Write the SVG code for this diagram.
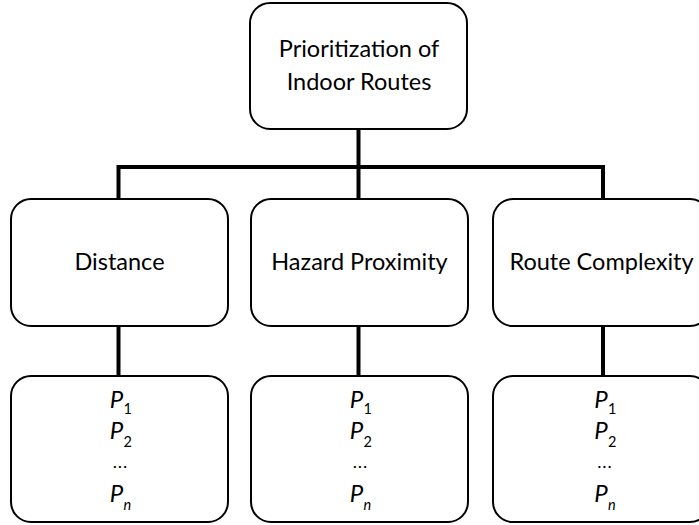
<svg xmlns="http://www.w3.org/2000/svg" width="699" height="525" viewBox="0 0 699 525">
<style>
.box{fill:#fff;stroke:#000;stroke-width:2}
.conn{fill:none;stroke:#000;stroke-width:4;stroke-linejoin:miter}
.t{font-family:"Lato","Liberation Sans",sans-serif;font-size:23.5px;fill:#000;text-anchor:middle}
.d{font-family:"Lato","Liberation Sans",sans-serif;font-size:18px;letter-spacing:1px;fill:#000;text-anchor:middle}
.p{font-family:"Lato","Liberation Sans",sans-serif;font-size:24px;fill:#000;font-style:italic;text-anchor:middle}
.s{font-family:"Lato","Liberation Sans",sans-serif;font-size:14.5px;fill:#000;text-anchor:start}
.si{font-family:"Lato","Liberation Sans",sans-serif;font-size:14.5px;fill:#000;font-style:italic;text-anchor:start}
</style>
<rect width="699" height="525" fill="#fff"/>
<g id="connectors">
<line class="conn" x1="358.5" y1="129" x2="358.5" y2="199"/>
<polyline class="conn" points="118.5,199 118.5,167 603,167 603,199"/>
<line class="conn" x1="118.5" y1="326" x2="118.5" y2="376"/>
<line class="conn" x1="358.5" y1="326" x2="358.5" y2="376"/>
<line class="conn" x1="603" y1="326" x2="603" y2="377"/>
</g>
<g id="root">
<rect class="box" x="250" y="3" width="217" height="126" rx="20"/>
<text class="t" x="359" y="57">Prioritization of</text>
<text class="t" x="359" y="89.5">Indoor Routes</text>
</g>
<g id="distance">
<rect class="box" x="11" y="199" width="217" height="127" rx="20"/>
<text class="t" x="119.5" y="269.5">Distance</text>
</g>
<g id="hazard">
<rect class="box" x="251" y="199" width="217" height="127" rx="20"/>
<text class="t" x="359.5" y="269.5">Hazard Proximity</text>
</g>
<g id="complexity">
<rect class="box" x="493" y="199" width="217" height="127" rx="20"/>
<text class="t" x="601.5" y="269.5">Route Complexity</text>
</g>
<g id="distance-list">
<rect class="box" x="11" y="376" width="217" height="146" rx="20"/>
<text class="p" x="116.5" y="407.5">P</text><text class="s" x="123.5" y="414">1</text>
<text class="p" x="116.5" y="438.5">P</text><text class="s" x="123.5" y="446.5">2</text>
<text class="d" x="120.5" y="468">...</text>
<text class="p" x="116.5" y="502">P</text><text class="si" x="123.5" y="510">n</text>
</g>
<g id="hazard-list">
<rect class="box" x="251" y="376" width="217" height="146" rx="20"/>
<text class="p" x="356.5" y="407.5">P</text><text class="s" x="363.5" y="414">1</text>
<text class="p" x="356.5" y="438.5">P</text><text class="s" x="363.5" y="446.5">2</text>
<text class="d" x="360.5" y="468">...</text>
<text class="p" x="356.5" y="502">P</text><text class="si" x="363.5" y="510">n</text>
</g>
<g id="complexity-list">
<rect class="box" x="493" y="376" width="217" height="146" rx="20"/>
<text class="p" x="601" y="407.5">P</text><text class="s" x="608" y="414">1</text>
<text class="p" x="601" y="438.5">P</text><text class="s" x="608" y="446.5">2</text>
<text class="d" x="605" y="468">...</text>
<text class="p" x="601" y="502">P</text><text class="si" x="608" y="510">n</text>
</g>
</svg>
